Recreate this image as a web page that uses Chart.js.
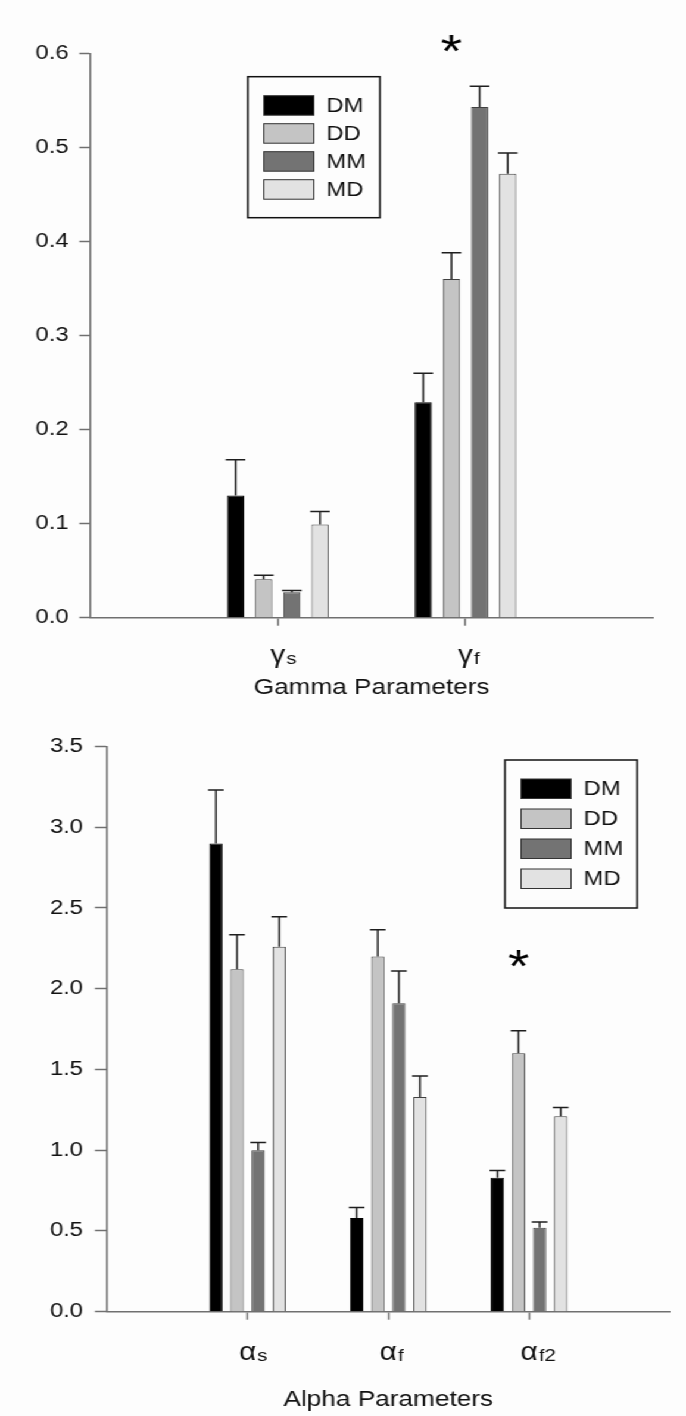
<!DOCTYPE html>
<html>
<head>
<meta charset="utf-8">
<script src="https://cdn.jsdelivr.net/npm/chart.js@4.4.1/dist/chart.umd.min.js"></script>
<style>
	body { margin: 0; background: #fdfdfd; overflow: hidden; }
	/* the source figure is stretched sideways, so the canvases are drawn narrow and widened */
	#figure { width: 576px; height: 1416px; transform: scaleX(1.19097); transform-origin: 0 0; }
	canvas { display: block; }
</style>
</head>
<body>
<div id="figure">
	<canvas id="gamma-canvas" width="576" height="710"></canvas>
	<canvas id="alpha-canvas" width="576" height="706"></canvas>
</div>
<script>
const series_names = ['DM', 'DD', 'MM', 'MD']
const series_colours = ['#000000', '#c4c4c4', '#737373', '#e2e2e2']

const gamma_labels = ['γs', 'γf']
const gamma_dm = [0.130, 0.229]
const gamma_dd = [0.041, 0.360]
const gamma_mm = [0.027, 0.543]
const gamma_md = [0.099, 0.472]
const gamma_dm_err = [0.038, 0.031]
const gamma_dd_err = [0.004, 0.028]
const gamma_mm_err = [0.002, 0.022]
const gamma_md_err = [0.014, 0.022]
const gamma_ticks = [0.0, 0.1, 0.2, 0.3, 0.4, 0.5, 0.6]
const gamma_star = { category: 'γf', series: 'DD', value: 0.614 }

const alpha_labels = ['αs', 'αf', 'αf2']
const alpha_dm = [2.90, 0.58, 0.83]
const alpha_dd = [2.12, 2.20, 1.60]
const alpha_mm = [1.00, 1.91, 0.52]
const alpha_md = [2.26, 1.33, 1.21]
const alpha_dm_err = [0.33, 0.065, 0.045]
const alpha_dd_err = [0.215, 0.165, 0.14]
const alpha_mm_err = [0.048, 0.20, 0.035]
const alpha_md_err = [0.185, 0.13, 0.055]
const alpha_ticks = [0.0, 0.5, 1.0, 1.5, 2.0, 2.5, 3.0, 3.5]
const alpha_star = { category: 'αf2', series: 'DD', value: 2.21 }

const font_family = "'Liberation Sans', Arial, sans-serif"
const axis_colour = '#707070'
Chart.defaults.font.family = font_family
Chart.defaults.color = '#111111'

// upward error bars with a cap, drawn over each bar
const error_bar_plugin = {
	id: 'error_bars',
	afterDatasetsDraw(chart) {
		let ctx = chart.ctx
		let y_scale = chart.scales.y
		ctx.save()
		ctx.strokeStyle = '#1e1e1e'
		ctx.lineWidth = 1.5
		chart.data.datasets.forEach((dataset, i) => {
			chart.getDatasetMeta(i).data.forEach((bar, j) => {
				let value = dataset.data[j]
				if (value == null) {
					return
				}
				let top = y_scale.getPixelForValue(value + dataset.errors[j])
				let half = bar.width / 2 + 1
				ctx.beginPath()
				ctx.moveTo(bar.x, bar.y)
				ctx.lineTo(bar.x, top)
				ctx.moveTo(bar.x - half, top)
				ctx.lineTo(bar.x + half, top)
				ctx.stroke()
			})
		})
		ctx.restore()
	}
}

// category names with the subscript part set smaller
const subscript_label_plugin = {
	id: 'subscript_labels',
	afterDraw(chart, args, opts) {
		let ctx = chart.ctx
		let x_scale = chart.scales.x
		let baseline = chart.chartArea.bottom + opts.offset
		ctx.save()
		ctx.fillStyle = '#111111'
		ctx.textAlign = 'left'
		ctx.textBaseline = 'alphabetic'
		chart.data.labels.forEach((label, i) => {
			if (!label) {
				return
			}
			let x = x_scale.getPixelForTick(i)
			let main = label[0]
			let sub = label.slice(1)
			ctx.font = `${opts.main_size}px ${font_family}`
			let main_width = ctx.measureText(main).width
			ctx.fillText(main, x - main_width / 2, baseline)
			ctx.font = `${opts.sub_size}px ${font_family}`
			ctx.fillText(sub, x + main_width / 2 + 1, baseline + opts.sub_shift)
		})
		ctx.restore()
	}
}

// boxed legend placed inside the plot
const legend_box_plugin = {
	id: 'legend_box',
	afterDraw(chart, args, opts) {
		let ctx = chart.ctx
		ctx.save()
		ctx.strokeStyle = '#111111'
		ctx.lineWidth = 1.5
		ctx.strokeRect(opts.left, opts.top, opts.width, opts.height)
		ctx.font = `20px ${font_family}`
		ctx.textBaseline = 'middle'
		chart.data.datasets.forEach((dataset, i) => {
			let y = opts.top + opts.first_row + i * opts.row_gap
			ctx.fillStyle = dataset.backgroundColor
			ctx.fillRect(opts.left + 13.5, y, 42, 19.5)
			ctx.lineWidth = 1
			ctx.strokeStyle = '#333333'
			ctx.strokeRect(opts.left + 13.5, y, 42, 19.5)
			ctx.fillStyle = '#111111'
			ctx.fillText(dataset.label, opts.left + 66, y + 10.5)
		})
		ctx.restore()
	}
}

// significance star over one bar
const star_plugin = {
	id: 'star',
	afterDraw(chart, args, opts) {
		let star = opts.star
		let category_index = chart.data.labels.indexOf(star.category)
		let dataset_index = chart.data.datasets.findIndex(d => d.label == star.series)
		let bar = chart.getDatasetMeta(dataset_index).data[category_index]
		let y = chart.scales.y.getPixelForValue(star.value)
		let ctx = chart.ctx
		ctx.save()
		ctx.fillStyle = '#000000'
		ctx.font = `46px ${font_family}`
		ctx.textAlign = 'center'
		ctx.textBaseline = 'alphabetic'
		ctx.fillText('*', bar.x, y + 27)
		ctx.restore()
	}
}

function make_datasets(values, errors, bar_percentage) {
	return series_names.map((name, i) => ({
		label: name,
		data: [null, ...values[i], null],
		errors: [null, ...errors[i], null],
		backgroundColor: series_colours[i],
		borderColor: i == 0 ? '#000000' : '#404040',
		borderWidth: 1,
		categoryPercentage: 0.6,
		barPercentage: bar_percentage
	}))
}

function make_chart(canvas_id, settings) {
	let labels = ['', ...settings.labels, '']
	return new Chart(document.getElementById(canvas_id), {
		type: 'bar',
		data: {
			labels: labels,
			datasets: make_datasets(settings.values, settings.errors, settings.bar_percentage)
		},
		options: {
			responsive: false,
			animation: false,
			events: [],
			layout: { padding: settings.padding },
			scales: {
				x: {
					type: 'category',
					offset: false,
					grid: {
						offset: false,
						drawOnChartArea: false,
						tickLength: 8,
						tickWidth: 1.5,
						tickColor: (c) => (c.index == 0 || c.index == labels.length - 1) ? 'rgba(0,0,0,0)' : axis_colour
					},
					border: { color: axis_colour, width: 1.5 },
					ticks: { display: false, autoSkip: false },
					title: {
						display: true,
						text: settings.title,
						color: '#111111',
						font: { size: 22 },
						padding: { top: 0, bottom: settings.title_gap }
					},
					afterFit: (scale) => { scale.height = settings.x_height }
				},
				y: {
					min: settings.ticks[0],
					max: settings.ticks[settings.ticks.length - 1],
					afterBuildTicks: (scale) => { scale.ticks = settings.ticks.map(v => ({ value: v })) },
					ticks: {
						padding: settings.tick_padding,
						color: '#111111',
						font: { size: 20 },
						callback: (v) => Number(v).toFixed(1)
					},
					grid: {
						drawOnChartArea: false,
						tickLength: settings.tick_length,
						tickWidth: 1.5,
						tickColor: axis_colour
					},
					border: { color: axis_colour, width: 1.5 },
					afterFit: (scale) => { scale.width = settings.y_width }
				}
			},
			plugins: {
				legend: { display: false },
				tooltip: { enabled: false },
				subscript_labels: { offset: settings.label_offset, main_size: 25, sub_size: 17, sub_shift: 1 },
				legend_box: settings.legend,
				star: { star: settings.star }
			}
		},
		plugins: [error_bar_plugin, subscript_label_plugin, legend_box_plugin, star_plugin]
	})
}

make_chart('gamma-canvas', {
	labels: gamma_labels,
	values: [gamma_dm, gamma_dd, gamma_mm, gamma_md],
	errors: [gamma_dm_err, gamma_dd_err, gamma_mm_err, gamma_md_err],
	ticks: gamma_ticks,
	star: gamma_star,
	title: 'Gamma Parameters',
	bar_percentage: 0.61,
	padding: { top: 53.3, right: 27.5, bottom: 0, left: 0 },
	x_height: 92.3,
	y_width: 75.6,
	tick_length: 9,
	tick_padding: 9,
	title_gap: 8.8,
	label_offset: 45,
	legend: { left: 208, top: 76.7, width: 111, height: 141, first_row: 19, row_gap: 28 }
})

make_chart('alpha-canvas', {
	labels: alpha_labels,
	values: [alpha_dm, alpha_dd, alpha_mm, alpha_md],
	errors: [alpha_dm_err, alpha_dd_err, alpha_mm_err, alpha_md_err],
	ticks: alpha_ticks,
	star: alpha_star,
	title: 'Alpha Parameters',
	bar_percentage: 0.63,
	padding: { top: 36.5, right: 13.6, bottom: 0, left: 0 },
	x_height: 104.3,
	y_width: 89.7,
	tick_length: 10,
	tick_padding: 10,
	title_gap: 2.8,
	label_offset: 48,
	legend: { left: 424, top: 50, width: 111, height: 148, first_row: 19, row_gap: 30 }
})
</script>
</body>
</html>
